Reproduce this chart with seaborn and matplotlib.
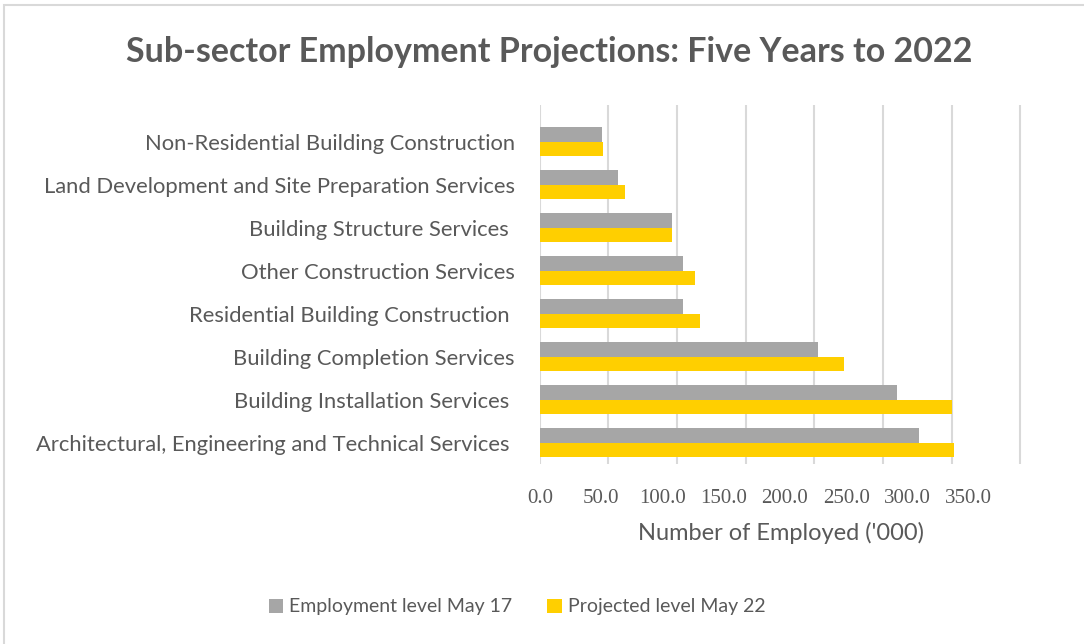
import pandas as pd
import numpy as np
import matplotlib.pyplot as plt
import seaborn as sns
from matplotlib.patches import Rectangle

# data ('000 employed)
categories = [
    'Non-Residential Building Construction',
    'Land Development and Site Preparation Services',
    'Building Structure Services ',
    'Other Construction Services',
    'Residential Building Construction ',
    'Building Completion Services',
    'Building Installation Services ',
    'Architectural, Engineering and Technical Services ',
]
employment_may17 = [45, 57, 96, 104, 104, 203, 260, 276]
projected_may22 = [46, 62, 96, 113, 117, 222, 300, 302]
series_names = ['Employment level May 17', 'Projected level May 22']
x_ticks = [0, 50, 100, 150, 200, 250, 300, 350]

df = pd.DataFrame({
    'Sub-sector': categories * 2,
    'Series': [series_names[0]] * len(categories) + [series_names[1]] * len(categories),
    'Employed': employment_may17 + projected_may22,
})

sns.set_style('white')
plt.rcParams['font.family'] = ['Lato', 'DejaVu Sans']
text_col = '#595959'

fig = plt.figure(figsize=(10.84, 6.44), dpi=100)
ax = fig.add_axes([0.498, 0.2795, 0.4456, 0.5575])

sns.barplot(data=df, y='Sub-sector', x='Employed', hue='Series', orient='h',
            palette=['#A6A6A6', '#FFCF00'], saturation=1, width=0.68, ax=ax,
            linewidth=0)

ax.set_xlim(0, 352)
ax.set_ylim(len(categories) - 0.5, -0.85)
ax.set_xticks(x_ticks)
ax.xaxis.grid(True, color='#D9D9D9', lw=1.5)
ax.set_axisbelow(True)
for s in ax.spines.values():
    s.set_visible(False)
ax.tick_params(axis='x', labelbottom=False, length=0)
ax.tick_params(axis='y', length=0, pad=18, labelsize=15.8, labelcolor=text_col)
ax.set_xlabel('')
ax.set_ylabel('')

# tick labels along the (narrower) front edge of the 3-D floor
sec = ax.secondary_xaxis('bottom', functions=(lambda x: x * 1.12, lambda s: s / 1.12))
sec.set_xticks(x_ticks)
sec.set_xticklabels([f'{t:.1f}' for t in x_ticks], family='Liberation Serif',
                    fontsize=15, color=text_col)
sec.tick_params(length=0, pad=18)
sec.spines['bottom'].set_visible(False)
sec.set_xlabel("Number of Employed ('000)", fontsize=17, color=text_col, labelpad=10)

# legend at the bottom
handles, labels = ax.get_legend_handles_labels()
ax.get_legend().remove()
fig.legend(handles, labels, loc='center', bbox_to_anchor=(0.477, 0.0575), ncol=2,
           frameon=False, handlelength=0.75, handleheight=0.75, handletextpad=0.3,
           columnspacing=1.8, fontsize=14, labelcolor=text_col)

fig.text(0.507, 0.92, 'Sub-sector Employment Projections: Five Years to 2022',
         ha='center', va='center', fontsize=24.5, fontweight='bold', color=text_col)

# chart frame
fig.patches.append(Rectangle((4 / 1084, -0.01), 1.0, 1 - 5 / 644 + 0.01,
                             transform=fig.transFigure, fill=False,
                             edgecolor='#D9D9D9', lw=1.5))

fig.savefig('out.png', dpi=100)
